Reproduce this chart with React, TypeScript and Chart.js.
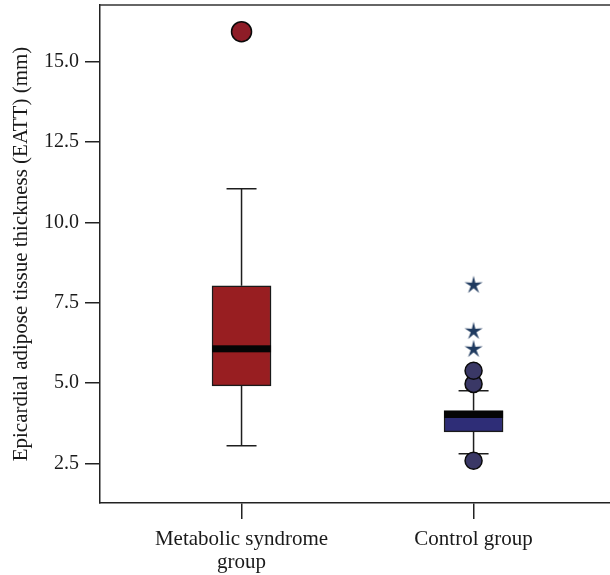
import React, { useEffect, useRef } from "react";
import { Chart, registerables } from "chart.js";

Chart.register(...registerables);

const categories: string[][] = [["Metabolic syndrome", "group"], ["Control group"]];
const positions = [1, 2];
const whiskerLow = [3.06, 2.81];
const q1 = [4.92, 3.49];
const median = [6.07, 4.03];
const q3 = [8.03, 4.15];
const whiskerHigh = [11.04, 4.77];
const outlierGroup = [1, 2, 2, 2];
const outlierValues = [15.92, 2.59, 4.98, 5.39];
const extremeGroup = [2, 2, 2];
const extremeValues = [6.07, 6.63, 8.06];
const yTicks = [2.5, 5.0, 7.5, 10.0, 12.5, 15.0];

const boxColors = ["#981e21", "#2e2d77"];
const outlierColors = ["#8e1c27", "#3a3866", "#3a3866", "#3a3866"];
const FONT = "'Liberation Serif', 'Times New Roman', serif";

function makeStar(): HTMLCanvasElement {
  const c = document.createElement("canvas");
  c.width = 20;
  c.height = 20;
  const ctx = c.getContext("2d")!;
  ctx.fillStyle = "#1f3a5f";
  ctx.beginPath();
  const cx = 10, cy = 10.5, ro = 9.5, ri = 3.0;
  for (let i = 0; i < 10; i++) {
    const r = i % 2 === 0 ? ro : ri;
    const a = -Math.PI / 2 + (i * Math.PI) / 5;
    const x = cx + r * Math.cos(a);
    const y = cy + r * Math.sin(a);
    if (i === 0) ctx.moveTo(x, y);
    else ctx.lineTo(x, y);
  }
  ctx.closePath();
  ctx.fill();
  return c;
}

const boxPlugin = {
  id: "boxExtras",
  beforeDatasetsDraw(chart: any) {
    const { ctx, scales } = chart;
    const xs = scales.x, ys = scales.y;
    ctx.save();
    ctx.strokeStyle = "#1e1e1e";
    ctx.lineWidth = 1.5;
    positions.forEach((p, i) => {
      const x = xs.getPixelForValue(p);
      const yLo = ys.getPixelForValue(whiskerLow[i]);
      const yHi = ys.getPixelForValue(whiskerHigh[i]);
      const yQ1 = ys.getPixelForValue(q1[i]);
      const yQ3 = ys.getPixelForValue(q3[i]);
      ctx.beginPath();
      ctx.moveTo(x, yLo);
      ctx.lineTo(x, yQ1);
      ctx.moveTo(x, yQ3);
      ctx.lineTo(x, yHi);
      ctx.moveTo(x - 15, yLo);
      ctx.lineTo(x + 15, yLo);
      ctx.moveTo(x - 15, yHi);
      ctx.lineTo(x + 15, yHi);
      ctx.stroke();
    });
    ctx.restore();
  },
  afterDatasetsDraw(chart: any) {
    const { ctx, scales, chartArea } = chart;
    const xs = scales.x, ys = scales.y;
    ctx.save();
    ctx.fillStyle = "#050505";
    positions.forEach((p, i) => {
      const x = xs.getPixelForValue(p);
      const y = ys.getPixelForValue(median[i]);
      ctx.fillRect(x - 29.5, y - 3.5, 59, 7);
    });
    ctx.strokeStyle = "#333";
    ctx.lineWidth = 1.5;
    ctx.beginPath();
    ctx.moveTo(chartArea.left, chartArea.top);
    ctx.lineTo(chartArea.right, chartArea.top);
    ctx.stroke();
    ctx.restore();
  },
};

function zeroPad(s: any) {
  s.paddingTop = 0;
  s.paddingBottom = 0;
  s.paddingLeft = 0;
  s.paddingRight = 0;
}

export default function App() {
  const ref = useRef<HTMLCanvasElement>(null);
  useEffect(() => {
    const star = makeStar();
    const chart = new Chart(ref.current!, {
      type: "bar",
      data: {
        datasets: [
          {
            type: "bar",
            data: positions.map((p, i) => ({ x: p, y: [q1[i], q3[i]] })) as any,
            backgroundColor: boxColors,
            borderColor: "#1a1a1a",
            borderWidth: 1.5,
            borderSkipped: false,
            barThickness: 59,
            order: 2,
          } as any,
          {
            type: "scatter",
            data: outlierValues.map((v, i) => ({ x: outlierGroup[i], y: v })),
            backgroundColor: outlierColors,
            borderColor: "#0a0a0a",
            borderWidth: 1.5,
            pointRadius: outlierGroup.map((g) => (g === 1 ? 10 : 8.5)),
            order: 1,
          } as any,
          {
            type: "scatter",
            data: extremeValues.map((v, i) => ({ x: extremeGroup[i], y: v })),
            pointStyle: star,
            order: 0,
          } as any,
        ],
      },
      options: {
        animation: false,
        responsive: false,
        layout: { autoPadding: false, padding: { top: 5, right: 0, left: 0, bottom: 0 } },
        plugins: { legend: { display: false }, tooltip: { enabled: false } },
        scales: {
          x: {
            type: "linear",
            offset: false,
            min: 0.39,
            max: 2.588,
            afterBuildTicks: (s: any) => {
              s.ticks = positions.map((v) => ({ value: v }));
            },
            afterFit: (s: any) => {
              s.height = 72;
              zeroPad(s);
            },
            ticks: {
              callback: (v: any) => categories[positions.indexOf(Number(v))] ?? "",
              font: { family: FONT, size: 21, lineHeight: 1.08 },
              color: "#1a1a1a",
              padding: 9,
              maxRotation: 0,
              autoSkip: false,
            },
            grid: { offset: false, drawOnChartArea: false, tickLength: 16, color: "#222", lineWidth: 1.5 },
            border: { display: true, color: "#222", width: 1.5 },
          },
          y: {
            type: "linear",
            min: 1.28,
            max: 16.75,
            afterBuildTicks: (s: any) => {
              s.ticks = yTicks.map((v) => ({ value: v }));
            },
            afterFit: (s: any) => {
              s.width = 100;
              zeroPad(s);
            },
            ticks: {
              callback: (v: any) => Number(v).toFixed(1),
              font: { family: FONT, size: 20 },
              color: "#1a1a1a",
              padding: 6,
            },
            grid: { drawOnChartArea: false, tickLength: 15, color: "#222", lineWidth: 1.5 },
            border: { display: true, color: "#222", width: 1.5 },
            title: {
              display: true,
              text: "Epicardial adipose tissue thickness (EATT) (mm)",
              font: { family: FONT, size: 21 },
              color: "#1a1a1a",
              padding: { top: 9, bottom: 0 },
            },
          },
        },
      },
      plugins: [boxPlugin],
    } as any);
    return () => chart.destroy();
  }, []);
  return (
    <div style={{ position: "fixed", left: 0, top: 0, width: 610, height: 575 }}>
      <canvas ref={ref} width={610} height={575} style={{ width: 610, height: 575 }} />
    </div>
  );
}
